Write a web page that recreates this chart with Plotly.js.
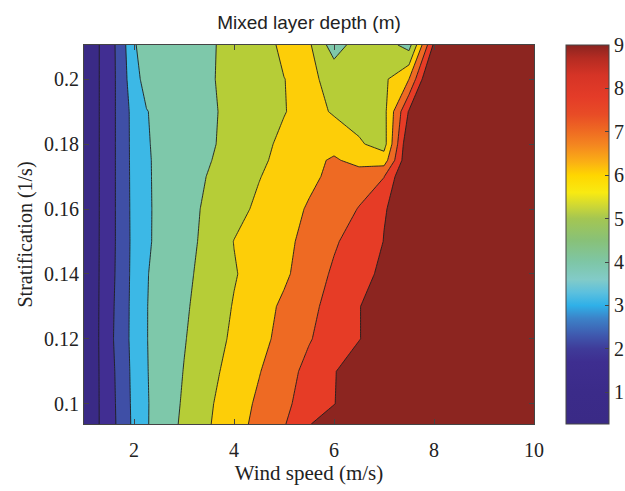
<!DOCTYPE html>
<html>
<head>
<meta charset="utf-8">
<script src="https://cdn.plot.ly/plotly-3.0.1.min.js"></script>
<style>
  html, body { margin: 0; padding: 0; background: #ffffff; }
  #chart { width: 625px; height: 491px; }
</style>
</head>
<body>
<div id="chart"></div>
<script>
// Wind speed (m/s) grid
const windSpeed = [1, 1.25, 1.5, 1.75, 2, 2.25, 2.5, 3, 3.5, 4, 4.5, 5, 5.5, 6, 6.5, 7, 7.5, 8, 9, 10];
// Stratification (1/s) grid
const stratification = [0.0938, 0.10, 0.11, 0.12, 0.13, 0.14, 0.15, 0.16, 0.17, 0.175, 0.18, 0.19, 0.20, 0.2105];
// Mixed layer depth (m), one row per stratification value
const depthS0938 = [0.3, 0.85, 1.55, 2.37, 3.22, 3.92, 4.37, 5.19, 5.94, 6.62, 7.28, 7.92, 8.96, 9.4, 9.7, 10, 10.2, 10.4, 10.7, 11];
const depthS100  = [0.3, 0.85, 1.56, 2.41, 3.24, 3.92, 4.34, 5.12, 5.88, 6.53, 7.17, 7.81, 8.40, 8.98, 9.4, 9.7, 10, 10.3, 10.6, 11];
const depthS110  = [0.3, 0.85, 1.60, 2.46, 3.27, 3.95, 4.32, 5.03, 5.72, 6.36, 6.95, 7.61, 8.28, 8.97, 9.3, 9.6, 9.9, 10.2, 10.5, 10.9];
const depthS120  = [0.3, 0.85, 1.69, 2.55, 3.30, 3.97, 4.30, 4.94, 5.57, 6.17, 6.72, 7.30, 7.93, 8.46, 8.98, 9.3, 9.6, 9.9, 10.3, 10.7];
const depthS130  = [0.3, 0.85, 1.64, 2.52, 3.30, 3.97, 4.28, 4.86, 5.46, 6.06, 6.61, 7.17, 7.75, 8.35, 8.98, 9.3, 9.6, 9.9, 10.3, 10.7];
const depthS140  = [0.3, 0.85, 1.58, 2.46, 3.29, 3.95, 4.25, 4.78, 5.35, 5.93, 6.39, 6.84, 7.47, 8.15, 8.68, 9.2, 9.5, 9.8, 10.2, 10.6];
const depthS150  = [0.3, 0.85, 1.55, 2.43, 3.27, 3.88, 4.17, 4.68, 5.27, 6.02, 6.40, 6.78, 7.27, 7.88, 8.45, 9.02, 9.3, 9.6, 10, 10.4];
const depthS160  = [0.3, 0.85, 1.53, 2.45, 3.28, 3.88, 4.16, 4.67, 5.18, 5.69, 6.18, 6.64, 7.09, 7.56, 8.04, 8.96, 9.3, 9.6, 10, 10.4];
const depthS170  = [0.3, 0.85, 1.53, 2.45, 3.30, 3.88, 4.18, 4.61, 5.05, 5.51, 5.96, 6.39, 6.81, 7.21, 7.59, 7.97, 10.3, 10.5, 10.7, 11];
const depthS175  = [0.3, 0.85, 1.53, 2.45, 3.31, 3.90, 4.16, 4.55, 4.95, 5.39, 5.84, 6.26, 6.67, 7.15, 6.6, 6.5, 10, 10.3, 10.6, 11];
const depthS180  = [0.3, 0.85, 1.53, 2.45, 3.32, 3.93, 4.16, 4.52, 4.88, 5.30, 5.74, 6.2, 6.5, 6.6, 6.12, 5.6, 10, 10.3, 10.6, 11];
const depthS190  = [0.3, 0.85, 1.53, 2.45, 3.34, 3.97, 4.17, 4.52, 4.87, 5.23, 5.59, 5.96, 6.35, 5.9, 5.6, 5.7, 9.1, 10, 10.5, 11];
const depthS200  = [0.3, 0.85, 1.53, 2.45, 3.7, 4.3, 4.42, 4.65, 4.92, 5.24, 5.61, 5.99, 6.2, 5.7, 5.5, 5.8, 7.0, 10.8, 10.8, 11];
const depthS2105 = [0.3, 0.85, 1.53, 2.5, 3.97, 4.14, 4.29, 4.59, 4.89, 5.27, 5.68, 6.15, 6.15, 4.5, 5.5, 5.5, 4.6, 9.2, 10.5, 11];

// Contour levels and filled band colours (below 1, 1-2, ..., 8-9, above 9)
const levels = [1, 2, 3, 4, 5, 6, 7, 8, 9];
const bandColors = ['#3a2a86', '#412e92', '#3f4fa6', '#3cb8e6', '#7ec8aa', '#b6cd37', '#fdce08', '#ee6a23', '#e63c26', '#8c2520'];

// Colour bar (continuous colormap): values and colours
const cbarValues = [0.27, 1.0, 1.7, 2.0, 2.3, 2.7, 3.0, 3.3, 3.6, 4.0, 4.5, 5.0, 5.3, 5.6, 6.0, 6.3, 6.7, 7.0, 7.4, 7.8, 8.3, 8.7, 9.0];
const cbarColors = ['#3a2a86', '#3b2b89', '#3e2e90', '#3f3b99', '#3f57ad', '#3c82c8', '#2fb0e8', '#5cc0de', '#82cbc8', '#7ec6a6', '#88c178', '#a4c652', '#cfd834', '#f8ea12', '#ffd600', '#fbb014', '#f48620', '#ef6c22', '#e84c26', '#e43c28', '#d63426', '#b42b22', '#8a2420'];
const cbarTicks = [1, 2, 3, 4, 5, 6, 7, 8, 9];

const xTicks = [2, 4, 6, 8, 10];
const yTicks = [0.1, 0.12, 0.14, 0.16, 0.18, 0.2];
const yTickText = ['0.1', '0.12', '0.14', '0.16', '0.18', '0.2'];

const depth = [depthS0938, depthS100, depthS110, depthS120, depthS130, depthS140, depthS150,
               depthS160, depthS170, depthS175, depthS180, depthS190, depthS200, depthS2105];

// Plotly contour fill: band above level L is coloured at position L/(n), background at 0
const nLev = levels.length;
const fillScale = bandColors.map((c, i) => [i / nLev, c]);

const cMin = cbarValues[0], cMax = cbarValues[cbarValues.length - 1];
const cbarScale = cbarValues.map((v, i) => [(v - cMin) / (cMax - cMin), cbarColors[i]]);

const serif = 'Liberation Serif';
const sans = 'Liberation Sans';

const contourTrace = {
  type: 'contour',
  x: windSpeed,
  y: stratification,
  z: depth,
  autocontour: false,
  contours: { start: levels[0], end: levels[nLev - 1], size: 1, coloring: 'fill', showlines: true },
  line: { color: '#1e1e1e', width: 0.9, smoothing: 0 },
  colorscale: fillScale,
  showscale: false,
  hoverinfo: 'skip'
};

const colorbarHolder = {
  type: 'scatter',
  mode: 'markers',
  x: [windSpeed[0], windSpeed[0]],
  y: [stratification[0], stratification[0]],
  marker: {
    size: 1, opacity: 0,
    color: [cMin, cMax], cmin: cMin, cmax: cMax,
    colorscale: cbarScale, showscale: true,
    colorbar: {
      x: 1.071, xanchor: 'left', xpad: 0, ypad: 0,
      y: 0.5, yanchor: 'middle', len: 1, lenmode: 'fraction',
      thickness: 43, thicknessmode: 'pixels',
      outlinewidth: 1, outlinecolor: '#444', borderwidth: 0,
      tickmode: 'array', tickvals: cbarTicks,
      ticks: 'inside', ticklen: 4, tickcolor: '#444', tickwidth: 1,
      tickfont: { family: serif, size: 20, color: '#222' }
    }
  },
  hoverinfo: 'skip',
  showlegend: false
};

const layout = {
  width: 625, height: 491,
  font: { family: serif, size: 20, color: '#222' },
  margin: { l: 84, r: 91, t: 45, b: 67, autoexpand: false },
  paper_bgcolor: '#ffffff', plot_bgcolor: '#ffffff',
  showlegend: false,
  title: {
    text: 'Mixed layer depth (m)',
    font: { family: sans, size: 19, color: '#222' },
    x: 0.5, xref: 'paper', xanchor: 'center',
    y: 0.955, yref: 'container', yanchor: 'middle'
  },
  xaxis: {
    range: [1, 10], tickmode: 'array', tickvals: xTicks,
    ticks: 'inside', ticklen: 5, tickcolor: '#444', tickwidth: 1,
    showline: true, linecolor: '#444', linewidth: 1, mirror: 'ticks',
    showgrid: false, zeroline: false,
    tickfont: { family: serif, size: 20, color: '#222' },
    ticklabelstandoff: 8,
    title: { text: 'Wind speed (m/s)', font: { family: serif, size: 21, color: '#222' }, standoff: 3 }
  },
  yaxis: {
    range: [0.0938, 0.2105], tickmode: 'array', tickvals: yTicks, ticktext: yTickText,
    ticks: 'inside', ticklen: 5, tickcolor: '#444', tickwidth: 1,
    showline: true, linecolor: '#444', linewidth: 1, mirror: 'ticks',
    showgrid: false, zeroline: false,
    tickfont: { family: serif, size: 20, color: '#222' },
    title: { text: 'Stratification (1/s)', font: { family: serif, size: 20, color: '#222' }, standoff: 6 }
  }
};

Plotly.newPlot('chart', [contourTrace, colorbarHolder], layout, { displayModeBar: false, staticPlot: true });
</script>
</body>
</html>
